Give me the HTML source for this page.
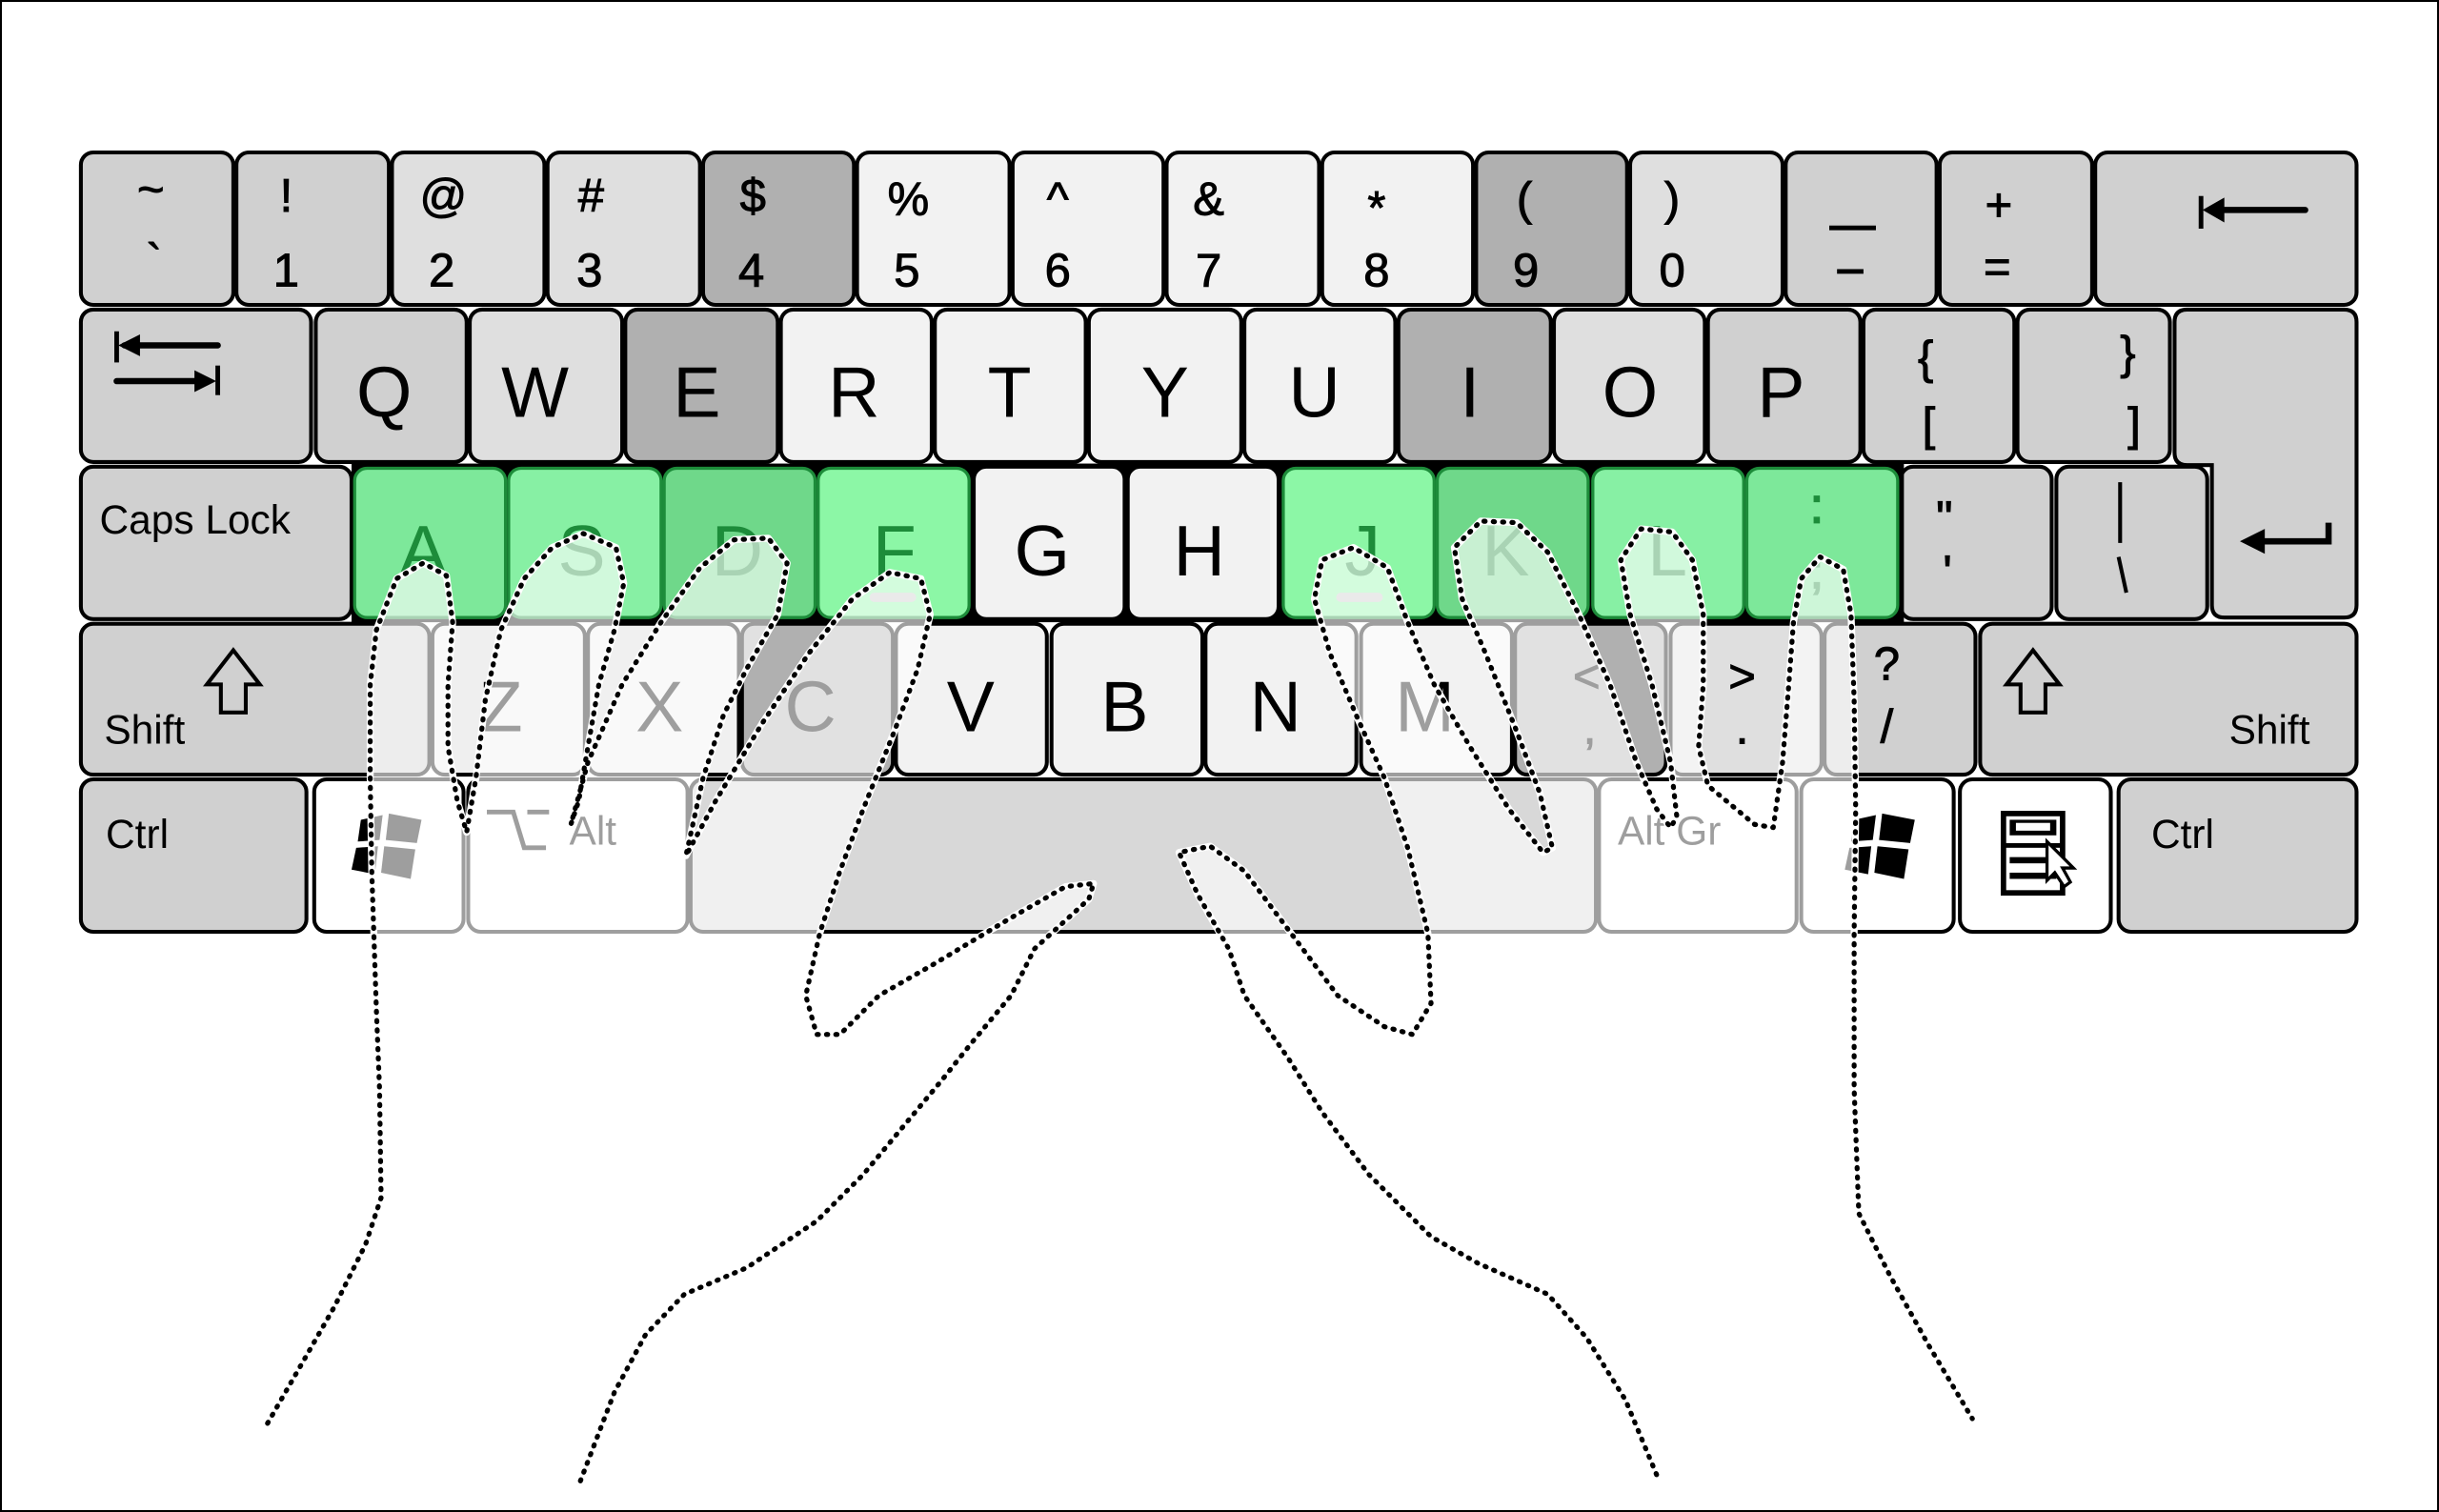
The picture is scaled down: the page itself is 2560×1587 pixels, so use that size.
<!DOCTYPE html>
<html><head><meta charset="utf-8"><style>
html,body{margin:0;padding:0;background:#fff;}
svg{display:block;}
text{font-family:"Liberation Sans",Arial,sans-serif;}
</style></head><body>
<svg width="2560" height="1587" viewBox="0 0 1568 972" preserveAspectRatio="none" xmlns="http://www.w3.org/2000/svg">
<defs>
<path id="lh" d="M172,915 L195,875 L215,840 L235,800 L245,770 L244,700 L242,650 L239,560 L238,500 L238,440 L242,405 L255,372 L272,362 L287,370 L291,400 L288,440 L288,480 L294,515 L300,535 L306,500 L312,450 L322,405 L337,372 L355,352 L375,343 L396,352 L401,375 L395,405 L385,440 L378,480 L372,515 L367,530 L378,490 L400,440 L425,400 L450,365 L472,347 L494,346 L506,362 L500,395 L480,430 L465,460 L452,500 L441,550 L460,515 L490,465 L520,420 L548,385 L572,368 L592,372 L598,395 L590,430 L575,470 L555,520 L540,560 L527,600 L518,640 L525,665 L540,665 L565,640 L600,620 L650,590 L685,570 L703,568 L700,578 L665,610 L650,640 L625,670 L605,695 L580,725 L555,755 L525,785 L480,815 L440,832 L415,858 L395,895 L372,955"/>
<path id="rh" d="M1065,948 L1045,900 L1020,860 L995,832 L950,812 L920,795 L880,755 L850,715 L828,680 L800,640 L790,610 L770,575 L758,548 L778,544 L800,560 L830,600 L860,640 L890,660 L908,665 L920,645 L918,600 L905,545 L890,500 L872,460 L855,420 L845,385 L850,360 L870,352 L892,365 L905,400 L922,440 L945,480 L970,520 L992,548 L998,545 L990,510 L975,470 L955,420 L940,385 L935,352 L952,335 L975,336 L995,355 L1015,395 L1035,440 L1052,490 L1065,520 L1074,532 L1078,525 L1074,490 L1062,440 L1048,395 L1042,360 L1055,340 L1075,342 L1088,360 L1095,395 L1095,440 L1092,480 L1098,505 L1128,530 L1140,532 L1146,490 L1150,440 L1153,400 L1158,372 L1170,358 L1185,366 L1190,395 L1192,450 L1193,520 L1192,600 L1192,700 L1195,780 L1215,820 L1240,865 L1268,912"/>
</defs>
<rect x="0.5" y="0.5" width="1567" height="971" fill="#fff" stroke="#000" stroke-width="1.5"/>
<g stroke="#000" stroke-width="2.5">
<rect x="52" y="98" width="98" height="98" rx="8" fill="#d0d0d0"/>
<rect x="152" y="98" width="98" height="98" rx="8" fill="#d0d0d0"/>
<rect x="252" y="98" width="98" height="98" rx="8" fill="#dfdfdf"/>
<rect x="352" y="98" width="98" height="98" rx="8" fill="#dfdfdf"/>
<rect x="452" y="98" width="97" height="98" rx="8" fill="#b0b0b0"/>
<rect x="551" y="98" width="98" height="98" rx="8" fill="#f2f2f2"/>
<rect x="651" y="98" width="97" height="98" rx="8" fill="#f2f2f2"/>
<rect x="750" y="98" width="98" height="98" rx="8" fill="#f2f2f2"/>
<rect x="850" y="98" width="97" height="98" rx="8" fill="#f2f2f2"/>
<rect x="949" y="98" width="97" height="98" rx="8" fill="#b0b0b0"/>
<rect x="1048" y="98" width="98" height="98" rx="8" fill="#dfdfdf"/>
<rect x="1148" y="98" width="97" height="98" rx="8" fill="#d0d0d0"/>
<rect x="1247" y="98" width="98" height="98" rx="8" fill="#d0d0d0"/>
<rect x="1347" y="98" width="168" height="98" rx="8" fill="#d0d0d0"/>
<rect x="52" y="199" width="148" height="98" rx="8" fill="#d0d0d0"/>
<rect x="203" y="199" width="97" height="98" rx="8" fill="#d0d0d0"/>
<rect x="302" y="199" width="98" height="98" rx="8" fill="#dfdfdf"/>
<rect x="402" y="199" width="98" height="98" rx="8" fill="#b0b0b0"/>
<rect x="502" y="199" width="97" height="98" rx="8" fill="#f2f2f2"/>
<rect x="601" y="199" width="97" height="98" rx="8" fill="#f2f2f2"/>
<rect x="700" y="199" width="98" height="98" rx="8" fill="#f2f2f2"/>
<rect x="800" y="199" width="97" height="98" rx="8" fill="#f2f2f2"/>
<rect x="899" y="199" width="98" height="98" rx="8" fill="#b0b0b0"/>
<rect x="999" y="199" width="97" height="98" rx="8" fill="#dfdfdf"/>
<rect x="1098" y="199" width="98" height="98" rx="8" fill="#d0d0d0"/>
<rect x="1198" y="199" width="97" height="98" rx="8" fill="#d0d0d0"/>
<rect x="1297" y="199" width="98" height="98" rx="8" fill="#d0d0d0"/>
<path d="M1406,199 H1507 Q1515,199 1515,207 V389 Q1515,397 1507,397 H1430 Q1422,397 1422,389 V299 H1406 Q1398,299 1398,291 V207 Q1398,199 1406,199 Z" fill="#d0d0d0"/>
<rect x="52" y="300" width="174" height="98" rx="8" fill="#d0d0d0"/>
<rect x="1222" y="300" width="97" height="98" rx="8" fill="#d0d0d0"/>
<rect x="1322" y="300" width="97" height="98" rx="8" fill="#d0d0d0"/>
<rect x="52" y="401" width="224" height="97" rx="8" fill="#d0d0d0"/>
<rect x="278" y="401" width="98" height="97" rx="8" fill="#efefef"/>
<rect x="378" y="401" width="97" height="97" rx="8" fill="#f0f0f0"/>
<rect x="477" y="401" width="97" height="97" rx="8" fill="#b0b0b0"/>
<rect x="576" y="401" width="97" height="97" rx="8" fill="#f2f2f2"/>
<rect x="676" y="401" width="97" height="97" rx="8" fill="#f2f2f2"/>
<rect x="775" y="401" width="97" height="97" rx="8" fill="#f2f2f2"/>
<rect x="875" y="401" width="97" height="97" rx="8" fill="#f2f2f2"/>
<rect x="974" y="401" width="97" height="97" rx="8" fill="#b0b0b0"/>
<rect x="1074" y="401" width="97" height="97" rx="8" fill="#dfdfdf"/>
<rect x="1173" y="401" width="97" height="97" rx="8" fill="#d0d0d0"/>
<rect x="1273" y="401" width="242" height="97" rx="8" fill="#d0d0d0"/>
<rect x="52" y="501" width="145" height="98" rx="8" fill="#d0d0d0"/>
<rect x="202" y="501" width="96" height="98" rx="8" fill="#fff"/>
<rect x="301" y="501" width="141" height="98" rx="8" fill="#fff"/>
<rect x="444" y="501" width="582" height="98" rx="8" fill="#d8d8d8"/>
<rect x="1028" y="501" width="127" height="98" rx="8" fill="#fff"/>
<rect x="1158" y="501" width="98" height="98" rx="8" fill="#fff"/>
<rect x="1260" y="501" width="97" height="98" rx="8" fill="#fff"/>
<rect x="1362" y="501" width="153" height="98" rx="8" fill="#d0d0d0"/>
</g>
<rect x="226" y="298" width="998" height="102" fill="#000"/>
<rect x="626" y="300" width="97" height="98" rx="8" fill="#f2f2f2" stroke="#000" stroke-width="2.5"/>
<rect x="725" y="300" width="97" height="98" rx="8" fill="#f2f2f2" stroke="#000" stroke-width="2.5"/>
<g stroke="#1d8c3a" stroke-width="2">
<rect x="228" y="301" width="97" height="96" rx="8" fill="#7de89a"/>
<rect x="327" y="301" width="98" height="96" rx="8" fill="#87f0a4"/>
<rect x="427" y="301" width="97" height="96" rx="8" fill="#6fd88a"/>
<rect x="526" y="301" width="97" height="96" rx="8" fill="#8cf7a6"/>
<rect x="825" y="301" width="97" height="96" rx="8" fill="#8cf7a6"/>
<rect x="924" y="301" width="97" height="96" rx="8" fill="#6fd88a"/>
<rect x="1024" y="301" width="97" height="96" rx="8" fill="#87f0a4"/>
<rect x="1123" y="301" width="97" height="96" rx="8" fill="#7de89a"/>
</g>
<g font-size="30" text-anchor="middle" fill="#000" stroke="#000" stroke-width="0.6">
<text x="97" y="132">~</text><text x="99" y="178">`</text>
<text x="184" y="136">!</text><text x="184" y="184">1</text>
<text x="285" y="136">@</text><text x="284" y="184">2</text>
<text x="380" y="136">#</text><text x="379" y="184">3</text>
<text x="484" y="136">$</text><text x="483" y="184">4</text>
<text x="584" y="138">%</text><text x="583" y="184">5</text>
<text x="680" y="138">^</text><text x="680" y="184">6</text>
<text x="777" y="138">&amp;</text><text x="777" y="184">7</text>
<text x="885" y="144">*</text><text x="885" y="184">8</text>
<text x="980" y="138">(</text><text x="981" y="184">9</text>
<text x="1075" y="138">)</text><text x="1075" y="184">0</text>
<text x="1285" y="142">+</text><text x="1284" y="182">=</text>
</g>
<rect x="1176" y="145" width="30" height="3" fill="#000"/>
<rect x="1181" y="173" width="17" height="3" fill="#000"/>
<line x1="1415" y1="126" x2="1415" y2="147" stroke="#000" stroke-width="3"/>
<line x1="1425" y1="135" x2="1482" y2="135" stroke="#000" stroke-width="4" stroke-linecap="round"/>
<polygon points="1416,135 1430,127 1430,143" fill="#000"/>
<line x1="75" y1="213" x2="75" y2="233" stroke="#000" stroke-width="3"/>
<line x1="80" y1="222" x2="140" y2="222" stroke="#000" stroke-width="4" stroke-linecap="round"/>
<polygon points="76,222 90,215 90,229" fill="#000"/>
<line x1="140" y1="235" x2="140" y2="254" stroke="#000" stroke-width="3"/>
<line x1="75" y1="245" x2="130" y2="245" stroke="#000" stroke-width="4" stroke-linecap="round"/>
<polygon points="139,245 125,238 125,252" fill="#000"/>
<g font-size="46" text-anchor="middle" fill="#000">
<text x="247" y="268">Q</text><text x="344" y="268">W</text><text x="448" y="268">E</text>
<text x="549" y="268">R</text><text x="649" y="268">T</text><text x="749" y="268">Y</text>
<text x="845" y="268">U</text><text x="945" y="268">I</text><text x="1048" y="268">O</text>
<text x="1145" y="268">P</text>
</g>
<g font-size="30" text-anchor="middle" fill="#000" stroke="#000" stroke-width="0.6">
<text x="1238" y="240">{</text><text x="1240" y="283">[</text>
<text x="1368" y="237">}</text><text x="1372" y="283">]</text>
<text x="1250" y="343">"</text><text x="1252" y="378">'</text>
</g>
<line x1="1363" y1="310" x2="1363" y2="349" stroke="#000" stroke-width="2.5"/>
<line x1="1362" y1="358" x2="1367" y2="381" stroke="#000" stroke-width="2.5"/>
<polyline points="1497,336 1497,348 1450,348" fill="none" stroke="#000" stroke-width="4"/>
<polygon points="1440,348 1456,340 1456,356" fill="#000"/>
<text x="64" y="343" font-size="26" fill="#000">Caps Lock</text>
<g font-size="46" text-anchor="middle">
<text x="272" y="370" fill="#1d8c3a">A</text><text x="374" y="370" fill="#1d8c3a">S</text>
<text x="474" y="370" fill="#1d8c3a">D</text><text x="575" y="370" fill="#1d8c3a">F</text>
<text x="670" y="370" fill="#000">G</text><text x="771" y="370" fill="#000">H</text>
<text x="876" y="370" fill="#1d8c3a">J</text><text x="968" y="370" fill="#1d8c3a">K</text>
<text x="1072" y="370" fill="#1d8c3a">L</text>
</g>
<text x="1168" y="336" font-size="32" text-anchor="middle" fill="#1d8c3a" stroke="#1d8c3a" stroke-width="1">:</text>
<text x="1168" y="378" font-size="32" text-anchor="middle" fill="#1d8c3a" stroke="#1d8c3a" stroke-width="1">;</text>
<line x1="562" y1="384" x2="586" y2="384" stroke="#c8c8c8" stroke-width="6" stroke-linecap="round"/>
<line x1="862" y1="384" x2="886" y2="384" stroke="#c8c8c8" stroke-width="6" stroke-linecap="round"/>
<text x="67" y="478" font-size="26" fill="#000">Shift</text>
<text x="1433" y="478" font-size="26" fill="#000">Shift</text>
<polygon points="150,418 167,440 158,440 158,458 142,458 142,440 133,440" fill="none" stroke="#000" stroke-width="2.5"/>
<polygon points="1307,418 1324,440 1315,440 1315,458 1299,458 1299,440 1290,440" fill="none" stroke="#000" stroke-width="2.5"/>
<g font-size="46" text-anchor="middle" fill="#000">
<text x="322" y="470">Z</text><text x="424" y="470">X</text><text x="521" y="470">C</text>
<text x="624" y="470">V</text><text x="723" y="470">B</text><text x="820" y="470">N</text>
<text x="916" y="470">M</text>
</g>
<g font-size="30" text-anchor="middle" fill="#000" stroke="#000" stroke-width="0.6">
<text x="1020" y="445">&lt;</text><text x="1022" y="478">,</text>
<text x="1120" y="445">&gt;</text><text x="1120" y="478">.</text>
<text x="1213" y="437">?</text><text x="1213" y="477">/</text>
</g>
<text x="68" y="545" font-size="26" fill="#000">Ctrl</text>
<text x="1383" y="545" font-size="26" fill="#000">Ctrl</text>
<g fill="#000">
<polygon points="232,527 246,524 244,540 230,541"/><polygon points="250,523 271,527 268,542 248,540"/>
<polygon points="229,545 243,544 241,562 226,559"/><polygon points="247,544 267,546 264,565 245,561"/>
<polygon points="1192,527 1206,524 1204,540 1190,541"/><polygon points="1210,523 1231,527 1228,542 1208,540"/>
<polygon points="1189,545 1203,544 1201,562 1186,559"/><polygon points="1207,544 1227,546 1224,565 1205,561"/>
</g>
<polyline points="313,522 330,522 337,545 351,545" fill="none" stroke="#000" stroke-width="3"/>
<line x1="339" y1="522" x2="353" y2="522" stroke="#000" stroke-width="3"/>
<text x="366" y="543" font-size="26" fill="#000">Alt</text>
<text x="1040" y="543" font-size="26" fill="#000">Alt Gr</text>
<rect x="1288" y="523" width="38" height="51" fill="#fff" stroke="#000" stroke-width="3.5"/>
<rect x="1292" y="527" width="30" height="10" fill="#000"/>
<rect x="1296" y="529" width="22" height="5" fill="#fff"/>
<rect x="1288" y="542" width="38" height="3" fill="#000"/>
<rect x="1292" y="551" width="30" height="4" fill="#000"/>
<rect x="1292" y="561" width="30" height="4" fill="#000"/>
<polygon points="1316,541 1333,558 1326,558 1331,567 1327,570 1321,561 1316,566" fill="#fff" stroke="#000" stroke-width="2"/>
<use href="#lh" fill="rgba(255,255,255,0.62)" stroke="none"/>
<use href="#rh" fill="rgba(255,255,255,0.62)" stroke="none"/>
<g fill="none" stroke-linecap="round" stroke-linejoin="round">
<use href="#lh" stroke="#fff" stroke-width="4.5"/>
<use href="#rh" stroke="#fff" stroke-width="4.5"/>
<use href="#lh" stroke="#000" stroke-width="3.2" stroke-dasharray="0.8 5.2"/>
<use href="#rh" stroke="#000" stroke-width="3.2" stroke-dasharray="0.8 5.2"/>
</g>
</svg>
</body></html>
